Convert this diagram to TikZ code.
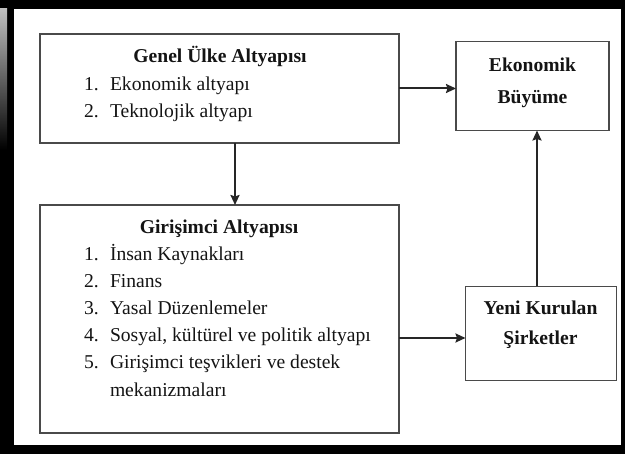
\documentclass[tikz,border=0pt]{standalone}
\usepackage{fontspec}
\setmainfont{Liberation Serif}
\usetikzlibrary{arrows.meta}
\definecolor{boxline}{HTML}{4A4A4A}
\definecolor{txt}{HTML}{141414}
\tikzset{
  boxnode/.style={draw=boxline, line width=1.7pt, rectangle, inner sep=0pt, outer sep=0pt},
  txtnode/.style={inner sep=0pt, outer sep=0pt, anchor=base west, text=txt, font=\fontsize{19.6}{23}\selectfont},
  titlenode/.style={inner sep=0pt, outer sep=0pt, anchor=base, text=txt, font=\fontsize{19.6}{23}\selectfont\bfseries},
  arr/.style={draw=black!85, line width=2pt, -{Stealth[length=10pt,width=9pt,inset=1.5pt]}}
}
\begin{document}
\begin{tikzpicture}[x=1pt,y=-1pt]
\useasboundingbox (0,0) rectangle (625,454);
% frame
\fill[black] (0,0) rectangle (625,454);
\shade[top color=black!25, bottom color=black] (0,9) rectangle (7,150);
\fill[white] (14,9) rectangle (621,445);
% boxes
\node[boxnode, minimum width=359pt, minimum height=109pt] (b1) at (219.5,88.5) {};
\node[boxnode, minimum width=153pt, minimum height=89pt] (b2) at (532.5,86) {};
\node[boxnode, minimum width=359pt, minimum height=228pt] (b3) at (219.5,319) {};
\node[boxnode, minimum width=151pt, minimum height=94pt] (b4) at (541,333.5) {};
% coordinates for connectors
\coordinate (v1) at (235,0);
\coordinate (v2) at (537,0);
\coordinate (h1) at (0,338);
% connectors
\draw[arr] (b1.east) -- (b1.east -| b2.west);
\draw[arr] (b1.south -| v1) -- (b3.north -| v1);
\draw[arr] (b4.north -| v2) -- (b2.south -| v2);
\draw[arr] (b3.east |- h1) -- (b4.west |- h1);
% box 1 text
\node[titlenode] (t1) at (220,63) {Genel Ülke Altyapısı};
\node[txtnode] (n11) at (84,90.5) {1.};
\node[txtnode] (e11) at (110,90.5) {Ekonomik altyapı};
\node[txtnode] (n12) at (84,118) {2.};
\node[txtnode] (e12) at (110,118) {Teknolojik altyapı};
% box 2 text
\node[titlenode] (t2a) at (532.5,71.5) {Ekonomik};
\node[titlenode] (t2b) at (532.5,104) {Büyüme};
% box 3 text
\node[titlenode] (t3) at (219,234) {Girişimci Altyapısı};
\node[txtnode] (n31) at (84,261) {1.};
\node[txtnode] (e31) at (110,261) {İnsan Kaynakları};
\node[txtnode] (n32) at (84,288) {2.};
\node[txtnode] (e32) at (110,288) {Finans};
\node[txtnode] (n33) at (84,314.5) {3.};
\node[txtnode] (e33) at (110,314.5) {Yasal Düzenlemeler};
\node[txtnode] (n34) at (84,342) {4.};
\node[txtnode] (e34) at (110,342) {Sosyal, kültürel ve politik altyapı};
\node[txtnode] (n35) at (84,369) {5.};
\node[txtnode] (e35) at (110,369) {Girişimci teşvikleri ve destek};
\node[txtnode] (e36) at (110,397) {mekanizmaları};
% box 4 text
\node[titlenode] (t4a) at (540.5,315) {Yeni Kurulan};
\node[titlenode] (t4b) at (540.5,345) {Şirketler};
\end{tikzpicture}
\end{document}
